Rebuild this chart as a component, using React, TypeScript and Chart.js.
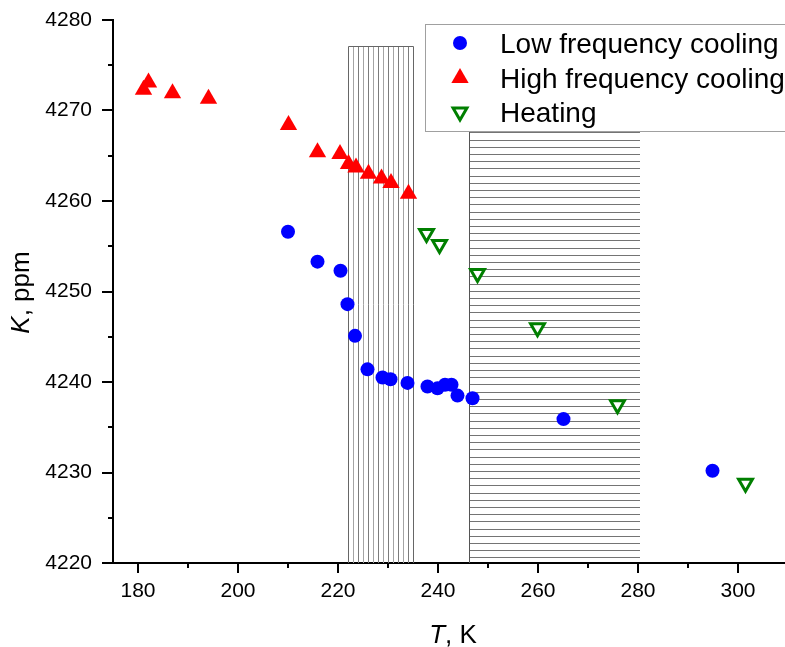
import React, { useEffect, useRef } from 'react';
import { Chart, registerables } from 'chart.js';
import { drawPoint } from 'chart.js/helpers';

Chart.register(...registerables);

// ---- data ----
const seriesNames = ['Low frequency cooling', 'High frequency cooling', 'Heating'];

const lowT = [210.0, 215.9, 220.5, 221.9, 223.4, 225.9, 228.9, 230.5, 233.9, 237.9, 239.9, 241.4, 242.7, 243.9, 246.9, 265.1, 294.9];
const lowK = [4256.6, 4253.3, 4252.3, 4248.6, 4245.1, 4241.4, 4240.5, 4240.3, 4239.9, 4239.5, 4239.3, 4239.7, 4239.7, 4238.5, 4238.2, 4235.9, 4230.2];

const highT = [181.1, 182.1, 186.9, 194.1, 210.1, 215.9, 220.4, 222.1, 223.6, 226.1, 228.7, 230.6, 234.1];
const highK = [4272.3, 4273.1, 4271.9, 4271.3, 4268.4, 4265.4, 4265.2, 4264.1, 4263.7, 4263.0, 4262.5, 4262.0, 4260.8];

const heatT = [237.7, 240.3, 247.9, 259.9, 275.9, 301.5];
const heatK = [4256.4, 4255.2, 4252.0, 4246.0, 4237.5, 4228.8];

const xRange = [175, 309.4];
const yRange = [4220, 4280];
const xTickValues = [180, 190, 200, 210, 220, 230, 240, 250, 260, 270, 280, 290, 300];
const yTickValues = [4220, 4225, 4230, 4235, 4240, 4245, 4250, 4255, 4260, 4265, 4270, 4275, 4280];

// shaded temperature ranges
const vHatchRange = [222, 235];
const vHatchTopK = 4277.1;
const hHatchRange = [246.1, 280.4];
const hHatchTopK = 4267.9;

const FONT = "'Liberation Sans', Arial, Helvetica, sans-serif";
const BLUE = '#0000ff';
const RED = '#ff0000';
const GREEN = '#007f00';

const markerStyles = [
  { pointStyle: 'circle', radius: 7, rotation: 0, borderWidth: 0, fill: BLUE, stroke: BLUE },
  { pointStyle: 'triangle', radius: 10, rotation: 0, borderWidth: 0, fill: RED, stroke: RED },
  { pointStyle: 'triangle', radius: 8, rotation: 180, borderWidth: 3, fill: '#ffffff', stroke: GREEN },
];

const decorPlugin = {
  id: 'decor',
  beforeDatasetsDraw(chart: any) {
    const { ctx, chartArea } = chart;
    const x = chart.scales.x;
    const y = chart.scales.y;
    ctx.save();
    ctx.lineWidth = 1;
    // vertical hatch
    const vTop = Math.round(y.getPixelForValue(vHatchTopK)) + 0.5;
    const bottom = chartArea.bottom;
    const vx0 = Math.round(x.getPixelForValue(vHatchRange[0])) + 0.5;
    const vx1 = Math.round(x.getPixelForValue(vHatchRange[1])) + 0.5;
    let idx = 0;
    for (let t = vHatchRange[0]; t <= vHatchRange[1] + 1e-6; t += 1) {
      const px = Math.round(x.getPixelForValue(t)) + 0.5;
      const edge = t === vHatchRange[0] || t === vHatchRange[1];
      ctx.strokeStyle = edge ? '#666666' : idx % 2 === 0 ? '#7c7c7c' : '#a4a4a4';
      ctx.beginPath();
      ctx.moveTo(px, vTop);
      ctx.lineTo(px, bottom);
      ctx.stroke();
      idx++;
    }
    ctx.strokeStyle = '#666666';
    ctx.beginPath();
    ctx.moveTo(vx0, vTop);
    ctx.lineTo(vx1, vTop);
    ctx.stroke();

    // horizontal hatch
    const hx0 = Math.round(x.getPixelForValue(hHatchRange[0])) + 0.5;
    const hx1 = x.getPixelForValue(hHatchRange[1]);
    ctx.strokeStyle = '#747474';
    ctx.lineWidth = 1;
    for (let k = yRange[0] + 0.62; k <= hHatchTopK; k += 0.796) {
      const py = Math.round(y.getPixelForValue(k)) + 0.5;
      ctx.beginPath();
      ctx.moveTo(hx0, py);
      ctx.lineTo(hx1, py);
      ctx.stroke();
    }
    ctx.strokeStyle = '#555555';
    ctx.beginPath();
    ctx.moveTo(hx0, y.getPixelForValue(hHatchTopK));
    ctx.lineTo(hx0, bottom);
    ctx.stroke();
    ctx.restore();
  },
  afterDraw(chart: any) {
    const { ctx, chartArea } = chart;
    const x = chart.scales.x;
    const y = chart.scales.y;
    ctx.save();
    // tick marks
    ctx.strokeStyle = '#000';
    ctx.lineWidth = 2;
    for (const t of x.ticks) {
      const px = Math.round(x.getPixelForValue(t.value));
      const len = t.value % 20 === 0 ? 10 : 5;
      ctx.beginPath();
      ctx.moveTo(px, chartArea.bottom);
      ctx.lineTo(px, chartArea.bottom + len);
      ctx.stroke();
    }
    for (const t of y.ticks) {
      const py = Math.round(y.getPixelForValue(t.value));
      const len = t.value % 10 === 0 ? 11 : 5;
      ctx.beginPath();
      ctx.moveTo(chartArea.left - len, py);
      ctx.lineTo(chartArea.left, py);
      ctx.stroke();
    }

    // axis titles
    ctx.fillStyle = '#000';
    ctx.textBaseline = 'alphabetic';
    ctx.textAlign = 'left';
    const size = 26;
    const drawMixed = (ital: string, rest: string, cx: number, cy: number) => {
      ctx.font = `italic ${size}px ${FONT}`;
      const w1 = ctx.measureText(ital).width;
      ctx.font = `${size}px ${FONT}`;
      const w2 = ctx.measureText(rest).width;
      const start = cx - (w1 + w2) / 2;
      ctx.font = `italic ${size}px ${FONT}`;
      ctx.fillText(ital, start, cy);
      ctx.font = `${size}px ${FONT}`;
      ctx.fillText(rest, start + w1, cy);
    };
    drawMixed('T', ', K', (chartArea.left + chartArea.right) / 2 + 4, 643);
    ctx.save();
    ctx.translate(29, (chartArea.top + chartArea.bottom) / 2 + 1);
    ctx.rotate(-Math.PI / 2);
    drawMixed('K', ', ppm', 0, 0);
    ctx.restore();

    // legend
    const lx = 425.5, ly = 24.5, lw = 420, lh = 107;
    ctx.fillStyle = '#ffffff';
    ctx.fillRect(lx, ly, lw, lh);
    ctx.strokeStyle = '#a0a0a0';
    ctx.lineWidth = 1;
    ctx.strokeRect(lx, ly, lw, lh);
    const rows = [43, 78, 112];
    const baselines = [53, 87.5, 122];
    chart.data.datasets.forEach((ds: any, i: number) => {
      const m = markerStyles[i];
      ctx.fillStyle = m.fill;
      ctx.strokeStyle = m.stroke;
      ctx.lineWidth = m.borderWidth;
      drawPoint(ctx, { pointStyle: m.pointStyle as any, radius: m.radius, rotation: m.rotation, borderWidth: m.borderWidth }, 460, rows[i]);
      ctx.fillStyle = '#000';
      ctx.font = `28px ${FONT}`;
      ctx.textAlign = 'left';
      ctx.textBaseline = 'alphabetic';
      ctx.fillText(ds.label, 500, baselines[i]);
    });
    ctx.restore();
  },
};

export default function App() {
  const ref = useRef<HTMLCanvasElement | null>(null);

  useEffect(() => {
    if (!ref.current) return;
    const toPts = (xs: number[], ys: number[]) => xs.map((v, i) => ({ x: v, y: ys[i] }));
    const series = [toPts(lowT, lowK), toPts(highT, highK), toPts(heatT, heatK)];
    const chart = new Chart(ref.current, {
      type: 'scatter',
      data: {
        datasets: series.map((data, i) => ({
          label: seriesNames[i],
          data,
          showLine: false,
          pointStyle: markerStyles[i].pointStyle as any,
          pointRadius: markerStyles[i].radius,
          pointRotation: markerStyles[i].rotation,
          pointBorderWidth: markerStyles[i].borderWidth,
          pointBackgroundColor: markerStyles[i].fill,
          pointBorderColor: markerStyles[i].stroke,
          backgroundColor: markerStyles[i].fill,
          borderColor: markerStyles[i].stroke,
          pointHoverRadius: markerStyles[i].radius,
        })),
      },
      options: {
        animation: false,
        responsive: false,
        devicePixelRatio: 1,
        layout: { autoPadding: false, padding: { top: 20, right: 0, left: 0, bottom: 0 } },
        plugins: { legend: { display: false }, tooltip: { enabled: false } },
        scales: {
          x: {
            type: 'linear',
            min: xRange[0],
            max: xRange[1],
            grid: { display: false, drawTicks: false },
            border: { display: true, color: '#000', width: 2 },
            afterBuildTicks: (s: any) => {
              s.ticks = xTickValues.map((v) => ({ value: v }));
            },
            afterFit: (s: any) => {
              s.height = 84;
              s.paddingLeft = 0;
              s.paddingRight = 0;
              s.paddingTop = 0;
              s.paddingBottom = 0;
            },
            ticks: {
              autoSkip: false,
              maxRotation: 0,
              padding: 16,
              color: '#000',
              font: { family: FONT, size: 21 },
              callback: (v: any) => (Number(v) % 20 === 0 ? String(v) : ''),
            },
          },
          y: {
            type: 'linear',
            min: yRange[0],
            max: yRange[1],
            grid: { display: false, drawTicks: false },
            border: { display: true, color: '#000', width: 2 },
            afterBuildTicks: (s: any) => {
              s.ticks = yTickValues.map((v) => ({ value: v }));
            },
            afterFit: (s: any) => {
              s.width = 113;
              s.paddingLeft = 0;
              s.paddingRight = 0;
              s.paddingTop = 0;
              s.paddingBottom = 0;
            },
            ticks: {
              autoSkip: false,
              padding: 21,
              color: '#000',
              font: { family: FONT, size: 21 },
              callback: (v: any) => (Number(v) % 10 === 0 ? String(v) : ''),
            },
          },
        },
      },
      plugins: [decorPlugin],
    });
    return () => chart.destroy();
  }, []);

  return (
    <div style={{ position: 'absolute', left: 0, top: 0, width: 785, height: 647, background: '#fff' }}>
      <canvas ref={ref} width={785} height={647} style={{ display: 'block' }} />
    </div>
  );
}
